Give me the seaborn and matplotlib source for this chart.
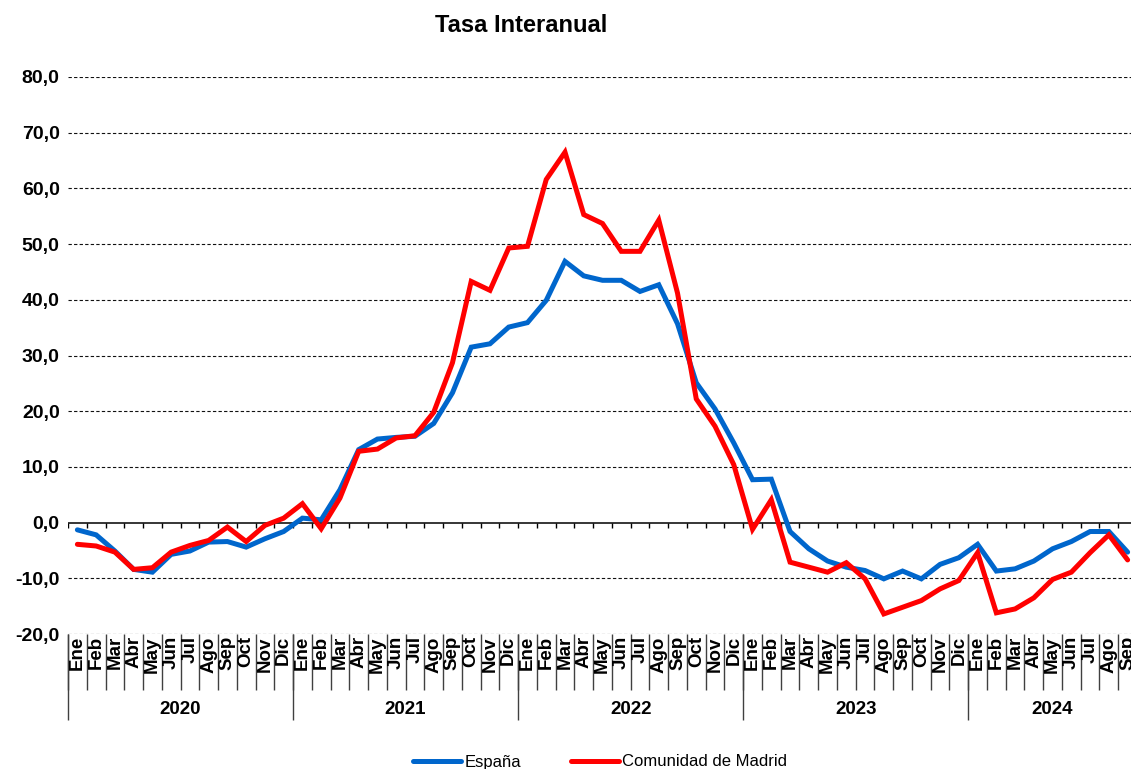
import matplotlib
matplotlib.use("Agg")
import matplotlib.pyplot as plt
import seaborn as sns
import pandas as pd

sns.set_style("white")
plt.rcParams['font.family'] = ['Liberation Sans', 'DejaVu Sans']
plt.rcParams['text.color'] = 'black'
plt.rcParams['ytick.color'] = 'black'
plt.rcParams['ytick.labelcolor'] = 'black'

# Datos: tasa interanual (%), enero 2020 - septiembre 2024
years = ["2020", "2021", "2022", "2023", "2024"]
months = ["Ene", "Feb", "Mar", "Abr", "May", "Jun", "Jul", "Ago", "Sep", "Oct", "Nov", "Dic"]
months_last_year = 9

espana = [
    -1.3, -2.2, -5.1, -8.4, -8.9, -5.7, -5.1, -3.5, -3.4, -4.4, -2.9, -1.6,
    0.8, 0.5, 5.9, 13.1, 15.0, 15.3, 15.5, 17.8, 23.3, 31.5, 32.1, 35.1,
    35.9, 39.9, 46.9, 44.3, 43.5, 43.5, 41.5, 42.7, 35.7, 25.1, 20.4, 14.3,
    7.7, 7.8, -1.6, -4.7, -6.9, -8.0, -8.6, -10.1, -8.7, -10.1, -7.5, -6.3,
    -3.9, -8.7, -8.3, -6.9, -4.7, -3.4, -1.6, -1.6, -5.3,
]
madrid = [
    -3.9, -4.2, -5.3, -8.4, -8.1, -5.3, -4.1, -3.2, -0.8, -3.4, -0.5, 0.8,
    3.4, -1.1, 4.4, 12.8, 13.2, 15.2, 15.6, 19.8, 28.7, 43.3, 41.7, 49.3,
    49.6, 61.6, 66.5, 55.3, 53.7, 48.7, 48.7, 54.3, 41.2, 22.2, 17.3, 10.4,
    -1.2, 4.1, -7.1, -8.0, -8.9, -7.2, -10.1, -16.4, -15.2, -14.0, -11.9, -10.4,
    -5.4, -16.2, -15.5, -13.5, -10.2, -8.9, -5.4, -2.2, -6.7,
]
series_names = ["España", "Comunidad de Madrid"]
colors = {"España": "#0066CC", "Comunidad de Madrid": "#FF0000"}

# month label per point
month_labels = []
year_counts = []
for k, y in enumerate(years):
    n = 12 if k < len(years) - 1 else months_last_year
    month_labels += months[:n]
    year_counts.append(n)
n_points = len(month_labels)

df = pd.DataFrame({
    "idx": list(range(n_points)) * 2,
    "valor": espana + madrid,
    "serie": [series_names[0]] * n_points + [series_names[1]] * n_points,
})

fig = plt.figure(figsize=(11.31, 7.69), dpi=100)
ax = fig.add_axes([68 / 1131, 1 - 634 / 769, (1137 - 68) / 1131, 557 / 769])

sns.lineplot(data=df, x="idx", y="valor", hue="serie", hue_order=series_names,
             palette=colors, linewidth=3.6, legend=False, ax=ax)
data_lines = list(ax.lines[:2])
for ln in data_lines:
    ln.set_solid_joinstyle("miter")
    ln.set_zorder(3)

ax.set_xlim(-0.5, n_points - 0.5)
ax.set_ylim(-20, 80)
for s in ax.spines.values():
    s.set_visible(False)

# y axis
yt = list(range(-20, 81, 10))
ax.set_yticks(yt)
ax.set_yticklabels([f"{v:.1f}".replace(".", ",") for v in yt], fontsize=14, fontweight="bold")
ax.tick_params(axis="y", length=0, pad=6, labelcolor="black")
ax.set_xticks([])
ax.set_xlabel("")
ax.set_ylabel("")

for v in yt:
    if v != 0:
        ax.axhline(v, color="#111111", lw=0.8, ls=(0, (3, 2)), zorder=1)
ax.axhline(0, color="black", lw=1.1, zorder=2)

# tick marks on the zero line
bounds = [i - 0.5 for i in range(n_points + 1)]
ax.vlines(bounds, -0.9, 0, color="black", lw=1, zorder=2)

# category axis below the plot
xt = ax.get_xaxis_transform()
ax.vlines(bounds, -0.10, 0, transform=xt, color="#404040", lw=1, clip_on=False)
for i, lab in enumerate(month_labels):
    ax.text(i, -0.004, lab, transform=xt, rotation=90, ha="center", va="top",
            fontsize=13.5, fontweight="bold", color="black", clip_on=False)

start = 0
for y, n in zip(years, year_counts):
    ax.vlines([start - 0.5], -0.155, 0, transform=xt, color="#404040", lw=1, clip_on=False)
    ax.text(start + n / 2 - 0.5, -0.136, y, transform=xt, ha="center", va="center",
            fontsize=13.5, fontweight="bold", color="black")
    start += n

fig.text(521 / 1131, 1 - 25 / 769, "Tasa Interanual", ha="center", va="center",
         fontsize=17, fontweight="bold", color="black")

leg = fig.legend(data_lines, series_names, loc="center", bbox_to_anchor=(600 / 1131, 1 - 762 / 769),
                 ncol=2, frameon=False, fontsize=12, handlelength=2.9, handletextpad=0.2,
                 columnspacing=3)
for t in leg.get_texts():
    t.set_color("black")

fig.savefig("out.png", dpi=100)
